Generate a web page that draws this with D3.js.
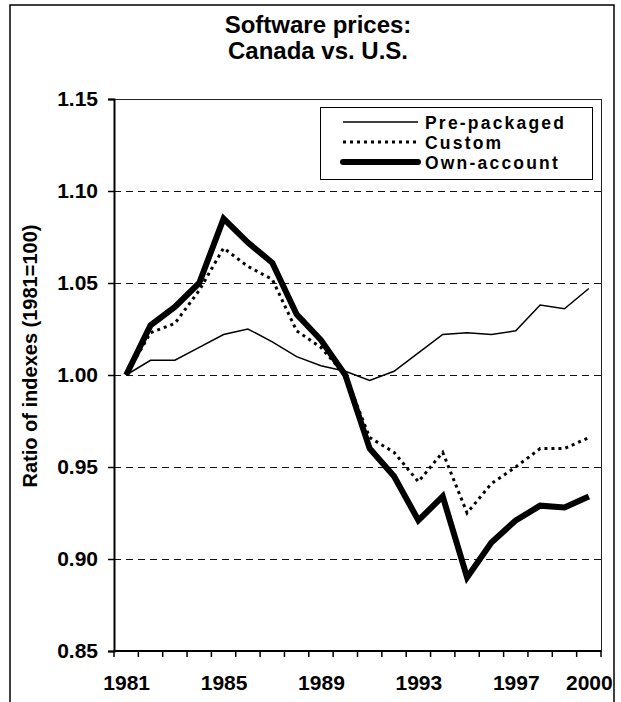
<!DOCTYPE html>
<html>
<head>
<meta charset="utf-8">
<script src="https://cdn.jsdelivr.net/npm/d3@7"></script>
<style>
  body { margin: 0; background: #fff; }
  svg text { font-family: "Liberation Sans", Arial, sans-serif; font-weight: bold; fill: #000; }
</style>
</head>
<body>
<svg width="621" height="702"></svg>
<script>
// Data
const years = d3.range(1981, 2001);
const xTickLabels = [1981, 1985, 1989, 1993, 1997, 2000];
const yTicks = [0.85, 0.90, 0.95, 1.00, 1.05, 1.10, 1.15];
const gridValues = [0.90, 0.95, 1.00, 1.05, 1.10];

const seriesNames = ['Pre-packaged', 'Custom', 'Own-account'];
const prepackaged = [1.000, 1.008, 1.008, 1.015, 1.022, 1.025, 1.018, 1.010, 1.005, 1.002,
                     0.997, 1.002, 1.012, 1.022, 1.023, 1.022, 1.024, 1.038, 1.036, 1.047];
const custom = [1.000, 1.023, 1.028, 1.046, 1.069, 1.059, 1.052, 1.024, 1.015, 1.000,
                0.966, 0.958, 0.942, 0.958, 0.925, 0.941, 0.950, 0.960, 0.960, 0.966];
const ownAccount = [1.000, 1.027, 1.037, 1.050, 1.085, 1.072, 1.061, 1.033, 1.019, 1.000,
                    0.960, 0.945, 0.921, 0.934, 0.890, 0.909, 0.921, 0.929, 0.928, 0.934];

const svg = d3.select('svg');

// Layout
const plot = { left: 114, right: 601, top: 99, bottom: 651 };

// Styles per series
const styles = [
  { width: 1.5, dash: null, cap: 'butt' },
  { width: 3, dash: '3,4', cap: 'butt' },
  { width: 6, dash: null, cap: 'round' }
];

// Outer frame
svg.append('rect')
  .attr('x', 10).attr('y', 5)
  .attr('width', 604).attr('height', 720)
  .attr('fill', 'none')
  .attr('stroke', '#000')
  .attr('stroke-width', 1.5);

// Title
const title = svg.append('text')
  .attr('text-anchor', 'middle')
  .style('font-size', '24px');
title.append('tspan').attr('x', 318).attr('y', 33).text('Software prices:');
title.append('tspan').attr('x', 318).attr('y', 59).text('Canada vs. U.S.');

// Scales
const x = d3.scalePoint()
  .domain(years)
  .range([plot.left, plot.right])
  .padding(0.5);

const y = d3.scaleLinear()
  .domain([0.85, 1.15])
  .range([plot.bottom, plot.top]);

// Plot area border
svg.append('rect')
  .attr('x', plot.left).attr('y', plot.top)
  .attr('width', plot.right - plot.left)
  .attr('height', plot.bottom - plot.top)
  .attr('fill', 'none')
  .attr('stroke', '#222')
  .attr('stroke-width', 1)
  .attr('shape-rendering', 'crispEdges');

// Gridlines
svg.append('g')
  .selectAll('line')
  .data(gridValues)
  .join('line')
  .attr('x1', plot.left).attr('x2', plot.right)
  .attr('y1', d => y(d)).attr('y2', d => y(d))
  .attr('stroke', '#111')
  .attr('stroke-width', 1)
  .attr('stroke-dasharray', '7,5')
  .attr('shape-rendering', 'crispEdges');

// Y axis
const yAxis = svg.append('g')
  .attr('transform', `translate(${plot.left},0)`)
  .call(d3.axisLeft(y)
    .tickValues(yTicks)
    .tickFormat(d3.format('.2f'))
    .tickSize(6)
    .tickPadding(10));
yAxis.select('.domain').attr('stroke', '#000').attr('stroke-width', 2);
yAxis.selectAll('.tick line').attr('stroke', '#000').attr('stroke-width', 1.5);
yAxis.selectAll('text')
  .style('font-size', '21px')
  .style('font-family', '"Liberation Sans", Arial, sans-serif')
  .style('font-weight', 'bold');

// X axis: labels
const step = x.step();
const xAxis = svg.append('g')
  .attr('transform', `translate(0,${plot.bottom})`)
  .call(d3.axisBottom(x)
    .tickValues(xTickLabels)
    .tickSize(0)
    .tickPadding(24));
xAxis.select('.domain').remove();
xAxis.selectAll('text')
  .style('font-size', '21px')
  .style('font-family', '"Liberation Sans", Arial, sans-serif')
  .style('font-weight', 'bold');

// X axis: line and tick marks between categories
const boundaries = years.map(d => x(d) - step / 2).concat([x(years[years.length - 1]) + step / 2]);
svg.append('line')
  .attr('x1', plot.left).attr('x2', plot.right)
  .attr('y1', plot.bottom).attr('y2', plot.bottom)
  .attr('stroke', '#000')
  .attr('stroke-width', 2);
svg.append('g')
  .selectAll('line')
  .data(boundaries)
  .join('line')
  .attr('x1', d => d).attr('x2', d => d)
  .attr('y1', plot.bottom).attr('y2', plot.bottom + 6)
  .attr('stroke', '#000')
  .attr('stroke-width', 1.5);

// Y axis title
svg.append('text')
  .attr('transform', 'translate(37,356) rotate(-90)')
  .attr('text-anchor', 'middle')
  .style('font-size', '20px')
  .text('Ratio of indexes (1981=100)');

// Lines
const seriesValues = [prepackaged, custom, ownAccount];
const line = d3.line()
  .x((d, i) => x(years[i]))
  .y(d => y(d));

svg.append('g')
  .selectAll('path')
  .data(seriesValues)
  .join('path')
  .attr('d', d => line(d))
  .attr('fill', 'none')
  .attr('stroke', '#000')
  .attr('stroke-width', (d, i) => styles[i].width)
  .attr('stroke-dasharray', (d, i) => styles[i].dash)
  .attr('stroke-linejoin', 'miter');

// Legend
const legend = svg.append('g');
legend.append('rect')
  .attr('x', 320).attr('y', 107)
  .attr('width', 272).attr('height', 72)
  .attr('fill', '#fff')
  .attr('stroke', '#000')
  .attr('stroke-width', 1)
  .attr('shape-rendering', 'crispEdges');

const legendRowY = [122, 142, 162];
const items = legend.selectAll('g.item')
  .data(seriesNames)
  .join('g')
  .attr('class', 'item');
items.append('line')
  .attr('x1', 343).attr('x2', 418)
  .attr('y1', (d, i) => legendRowY[i]).attr('y2', (d, i) => legendRowY[i])
  .attr('stroke', '#000')
  .attr('stroke-width', (d, i) => styles[i].width)
  .attr('stroke-dasharray', (d, i) => styles[i].dash)
  .attr('stroke-linecap', (d, i) => styles[i].cap);
items.append('text')
  .attr('x', 425)
  .attr('y', (d, i) => legendRowY[i] + 7)
  .style('font-size', '17.5px')
  .style('letter-spacing', '2.2px')
  .text(d => d);
</script>
</body>
</html>
